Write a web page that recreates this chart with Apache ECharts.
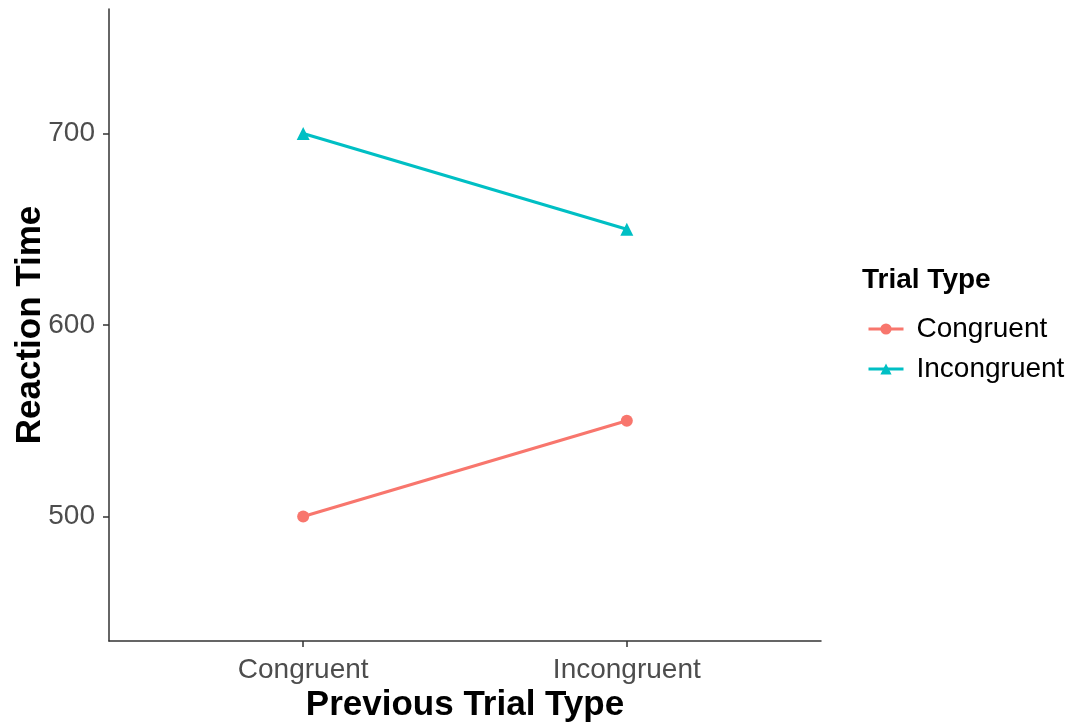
<!DOCTYPE html>
<html>
<head>
<meta charset="utf-8">
<script src="https://cdn.jsdelivr.net/npm/echarts@6/dist/echarts.min.js"></script>
<style>html,body{margin:0;padding:0;background:#fff}#chart{width:1065px;height:726px}</style>
</head>
<body>
<div id="chart"></div>
<script>
const categories = ['Congruent', 'Incongruent'];
const seriesNames = ['Congruent', 'Incongruent'];
const congruentRT = [500, 550];
const incongruentRT = [700, 650];
const yTicks = [500, 600, 700];
const xTicks = [0, 1];

const FONT = '"Liberation Sans", Arial, sans-serif';
const chart = echarts.init(document.getElementById('chart'), null, {renderer: 'canvas'});

function toPoints(vals) { return vals.map((v, i) => [i, v]); }

chart.setOption({
  animation: false,
  backgroundColor: '#ffffff',
  textStyle: {fontFamily: FONT},
  grid: {left: 109, right: 244, top: 9, bottom: 85, containLabel: false, outerBoundsMode: 'none'},
  xAxis: {
    type: 'value', min: -0.6, max: 1.6,
    name: 'Previous Trial Type', nameLocation: 'middle', nameGap: 47, nameMoveOverlap: false,
    nameTextStyle: {fontSize: 35, fontWeight: 'bold', color: '#000', fontFamily: FONT},
    axisLine: {show: true, onZero: false, lineStyle: {color: '#333', width: 1.5}},
    axisTick: {show: true, length: 6, customValues: xTicks, lineStyle: {color: '#333', width: 1.5}},
    axisLabel: {customValues: xTicks, formatter: v => categories[Math.round(v)] || '', fontSize: 28, color: '#4D4D4D', margin: 15, fontFamily: FONT},
    splitLine: {show: false}
  },
  yAxis: {
    type: 'value', min: 435, max: 765,
    name: 'Reaction Time', nameLocation: 'middle', nameGap: 61, nameRotate: 90, nameMoveOverlap: false,
    nameTextStyle: {fontSize: 35, fontWeight: 'bold', color: '#000', fontFamily: FONT},
    axisLine: {show: true, onZero: false, lineStyle: {color: '#333', width: 1.5}},
    axisTick: {show: true, length: 6, customValues: yTicks, lineStyle: {color: '#333', width: 1.5}},
    axisLabel: {customValues: yTicks, fontSize: 28, color: '#4D4D4D', margin: 14, fontFamily: FONT},
    splitLine: {show: false}
  },
  legend: {
    orient: 'vertical', left: 862, top: 310,
    itemWidth: 35, itemHeight: 14, itemGap: 12,
    lineStyle: {width: 3},
    textStyle: {fontSize: 28, color: '#000', fontFamily: FONT, lineHeight: 28, padding: [0, 0, 0, 8]},
    data: seriesNames
  },
  graphic: [{
    type: 'text', left: 862, top: 266,
    style: {text: 'Trial Type', fontSize: 28, fontWeight: 'bold', fill: '#000', fontFamily: FONT}
  }],
  series: [
    {name: seriesNames[0], type: 'line', data: toPoints(congruentRT), symbol: 'circle', symbolSize: 12,
     itemStyle: {color: '#F8766D'}, lineStyle: {color: '#F8766D', width: 3}},
    {name: seriesNames[1], type: 'line', data: toPoints(incongruentRT), symbol: 'triangle', symbolSize: 13,
     itemStyle: {color: '#00BFC4'}, lineStyle: {color: '#00BFC4', width: 3}}
  ]
});
</script>
</body>
</html>
